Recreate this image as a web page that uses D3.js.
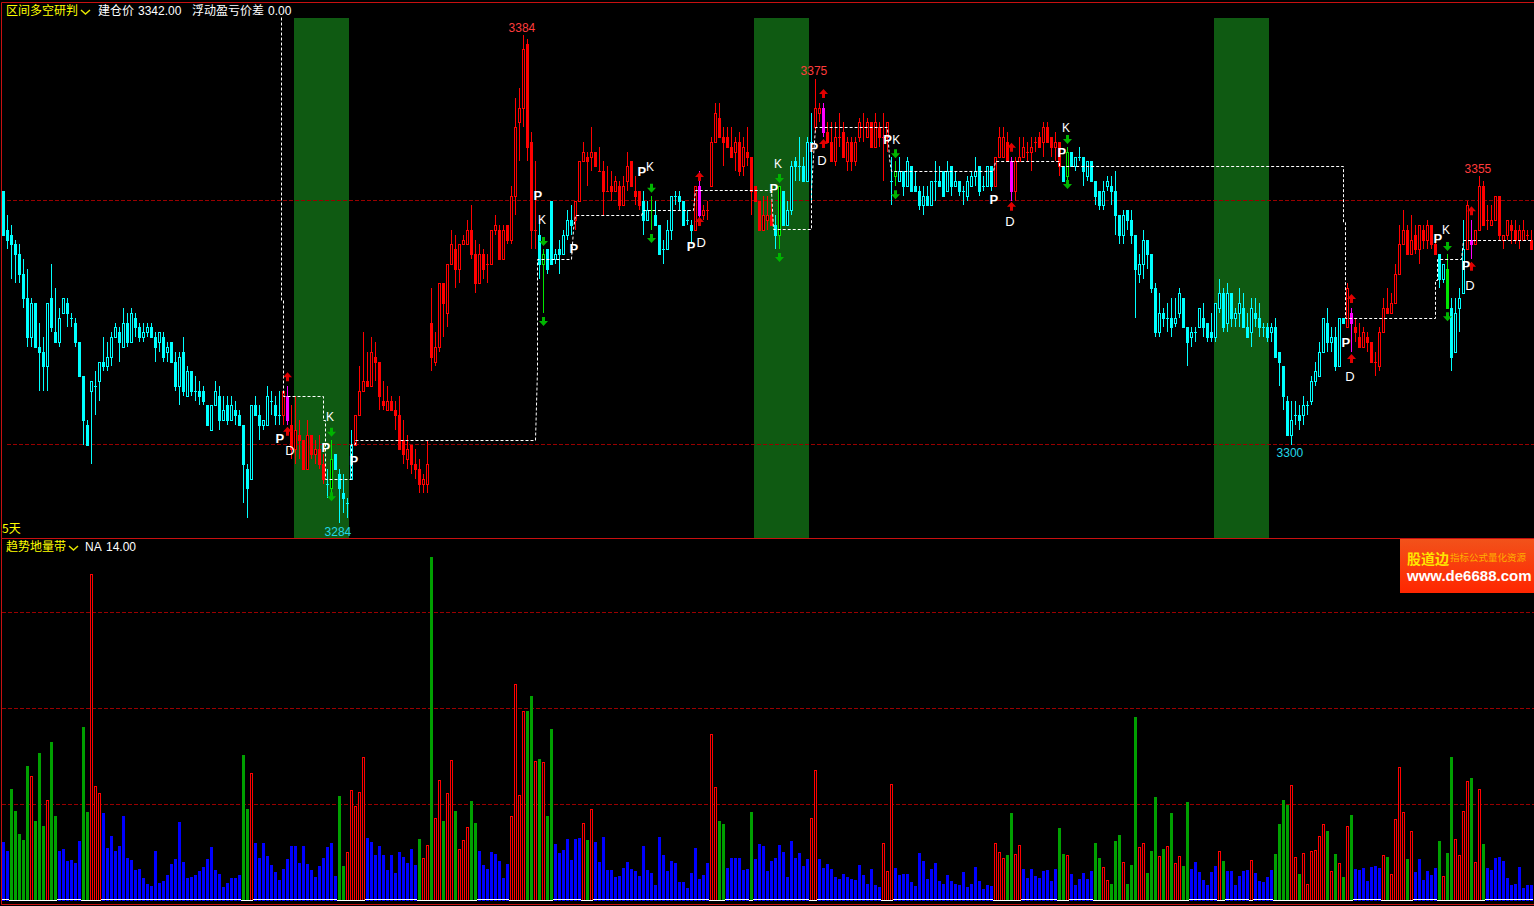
<!DOCTYPE html>
<html>
<head>
<meta charset="utf-8">
<script src="https://d3js.org/d3.v7.min.js"></script>
<style>
  body { margin: 0; background: #000; overflow: hidden; }
  svg { display: block; }
</style>
</head>
<body>
<div id="chart"></div>
<script>
// candles, one per bar
var opens = [
  3352,3344,3343,3341,3339,3335,3330,3322,3329,3320,
  3319,3316,3330,3323,3321,3327,3329,3326,3325,3321,
  3314,3304,3311,3312,3313,3317,3316,3318,3322,3323,
  3320,3325,3321,3326,3324,3322,3323,3324,3322,3321,
  3322,3319,3321,3317,3312,3319,3310,3315,3311,3311,
  3311,3308,3303,3308,3310,3305,3308,3305,3307,3306,
  3304,3295,3293,3308,3306,3304,3304,3309,3308,3306,
  3306,3310,3304,3299,3302,3301,3295,3302,3298,3299,
  3296,3292,3291,3298,3294,3290,3288,3293,3300,3306,
  3311,3313,3312,3318,3317,3309,3307,3309,3307,3306,
  3301,3297,3300,3296,3295,3292,3292,3325,3317,3320,
  3333,3327,3337,3340,3336,3341,3341,3344,3339,3333,
  3339,3337,3337,3344,3344,3338,3345,3342,3351,3366,
  3369,3382,3362,3344,3343,3337,3340,3350,3338,3340,
  3339,3343,3346,3346,3350,3358,3359,3359,3360,3356,
  3356,3352,3353,3352,3353,3349,3354,3358,3352,3352,
  3350,3346,3348,3347,3345,3340,3340,3344,3351,3351,
  3350,3346,3345,3344,3353,3347,3348,3353,3362,3367,
  3363,3363,3361,3360,3362,3357,3360,3359,3353,3350,
  3344,3346,3347,3345,3343,3352,3345,3348,3358,3357,
  3357,3354,3362,3365,3368,3369,3364,3362,3358,3363,
  3364,3358,3362,3358,3363,3365,3363,3366,3361,3365,
  3363,3363,3354,3355,3354,3356,3353,3357,3353,3352,
  3349,3351,3349,3354,3354,3356,3352,3357,3353,3354,
  3352,3351,3353,3355,3357,3353,3353,3357,3353,3359,
  3359,3362,3358,3352,3358,3359,3360,3360,3362,3363,
  3362,3365,3363,3361,3362,3357,3355,3360,3357,3359,
  3359,3355,3358,3354,3352,3349,3353,3353,3352,3347,
  3343,3348,3346,3343,3335,3337,3342,3339,3332,3323,
  3327,3326,3326,3325,3327,3330,3324,3322,3323,3324,
  3326,3325,3323,3322,3328,3331,3325,3331,3326,3327,
  3328,3324,3323,3327,3326,3324,3324,3323,3324,3319,
  3316,3309,3302,3306,3306,3306,3308,3309,3313,3314,
  3319,3325,3321,3322,3316,3326,3324,3327,3324,3322,
  3320,3322,3321,3317,3316,3323,3328,3327,3329,3335,
  3341,3344,3339,3343,3340,3344,3342,3345,3341,3339,
  3334,3336,3328,3319,3328,3331,3340,3342,3341,3344,
  3353,3346,3345,3346,3351,3342,3343,3345,3344,3342,
  3342,3343,3342
];
var closes = [
  3343,3342,3341,3339,3335,3330,3322,3329,3320,3319,
  3316,3329,3324,3321,3326,3330,3327,3326,3321,3314,
  3305,3300,3313,3312,3317,3316,3318,3322,3324,3321,
  3325,3321,3327,3324,3322,3323,3324,3322,3320,3323,
  3318,3320,3317,3312,3318,3311,3315,3311,3311,3310,
  3309,3304,3308,3311,3305,3307,3305,3308,3306,3304,
  3296,3291,3308,3306,3304,3305,3310,3309,3306,3306,
  3311,3305,3299,3303,3301,3295,3302,3298,3299,3296,
  3293,3292,3297,3295,3291,3289,3288,3300,3306,3311,
  3313,3312,3319,3317,3310,3308,3309,3307,3306,3299,
  3298,3299,3296,3295,3292,3293,3296,3318,3320,3333,
  3329,3337,3341,3336,3341,3342,3344,3339,3333,3339,
  3336,3337,3344,3345,3338,3344,3342,3351,3365,3369,
  3381,3361,3344,3344,3337,3339,3336,3337,3339,3339,
  3343,3346,3345,3350,3358,3360,3358,3360,3357,3356,
  3352,3352,3352,3354,3349,3353,3357,3353,3351,3349,
  3346,3348,3348,3345,3339,3340,3344,3351,3351,3350,
  3345,3346,3344,3353,3347,3348,3348,3362,3368,3363,
  3362,3361,3359,3362,3356,3361,3359,3352,3350,3344,
  3347,3347,3345,3343,3353,3345,3348,3357,3357,3357,
  3354,3362,3362,3369,3369,3364,3362,3358,3363,3363,
  3359,3362,3358,3362,3366,3365,3366,3361,3366,3363,
  3363,3366,3354,3356,3356,3353,3358,3352,3352,3349,
  3351,3349,3354,3354,3353,3351,3356,3353,3354,3352,
  3352,3354,3355,3356,3352,3353,3357,3353,3359,3363,
  3363,3358,3352,3358,3359,3361,3360,3361,3362,3361,
  3365,3362,3361,3362,3357,3354,3360,3357,3359,3359,
  3356,3358,3354,3351,3349,3352,3354,3352,3347,3343,
  3347,3346,3343,3336,3337,3342,3339,3332,3323,3327,
  3326,3326,3324,3326,3331,3324,3321,3323,3323,3328,
  3324,3322,3322,3329,3331,3324,3331,3326,3327,3329,
  3324,3322,3328,3326,3324,3324,3322,3324,3318,3317,
  3310,3302,3305,3306,3305,3308,3308,3313,3315,3319,
  3326,3321,3322,3316,3326,3325,3332,3325,3323,3320,
  3323,3321,3317,3317,3323,3328,3327,3329,3335,3341,
  3344,3339,3342,3340,3345,3342,3345,3341,3339,3334,
  3337,3328,3318,3327,3330,3340,3349,3341,3344,3353,
  3345,3346,3346,3351,3343,3343,3346,3344,3342,3344,
  3344,3343,3340
];
var highs = [
  3352,3347,3345,3342,3341,3338,3336,3330,3329,3325,
  3322,3329,3337,3332,3328,3330,3330,3327,3326,3321,
  3314,3305,3313,3315,3317,3322,3321,3323,3325,3324,
  3328,3327,3328,3327,3325,3325,3325,3325,3323,3323,
  3323,3321,3321,3319,3319,3322,3316,3315,3314,3313,
  3312,3308,3308,3313,3312,3310,3310,3310,3309,3307,
  3304,3296,3308,3310,3308,3305,3312,3311,3310,3311,
  3311,3312,3308,3310,3305,3301,3305,3302,3301,3302,
  3298,3295,3301,3298,3295,3294,3289,3303,3306,3316,
  3323,3319,3322,3321,3317,3313,3312,3310,3309,3310,
  3305,3302,3300,3299,3297,3294,3301,3332,3323,3333,
  3333,3337,3344,3343,3341,3343,3346,3349,3342,3341,
  3340,3339,3344,3347,3345,3345,3345,3353,3371,3373,
  3384,3383,3364,3358,3346,3340,3340,3350,3340,3342,
  3344,3348,3349,3350,3358,3362,3360,3365,3360,3361,
  3358,3357,3356,3355,3354,3355,3360,3358,3355,3352,
  3352,3350,3351,3350,3345,3342,3346,3351,3352,3352,
  3350,3348,3346,3353,3356,3349,3350,3363,3370,3370,
  3365,3365,3365,3363,3364,3363,3365,3359,3353,3350,
  3351,3351,3350,3347,3353,3352,3350,3358,3359,3363,
  3359,3363,3368,3375,3370,3370,3366,3366,3366,3368,
  3366,3363,3363,3363,3367,3368,3367,3366,3368,3366,
  3368,3366,3359,3358,3359,3356,3359,3357,3356,3353,
  3353,3353,3354,3358,3357,3356,3358,3357,3356,3354,
  3353,3355,3356,3359,3357,3355,3357,3357,3359,3365,
  3365,3364,3359,3359,3363,3363,3362,3363,3363,3364,
  3366,3366,3363,3364,3362,3357,3361,3360,3359,3361,
  3359,3358,3358,3354,3352,3354,3355,3355,3356,3347,
  3348,3348,3348,3343,3339,3344,3342,3339,3333,3331,
  3328,3329,3330,3330,3332,3330,3324,3324,3324,3328,
  3329,3325,3327,3329,3334,3332,3333,3331,3328,3332,
  3331,3327,3330,3330,3329,3325,3325,3325,3326,3319,
  3316,3310,3309,3309,3308,3310,3309,3314,3317,3321,
  3326,3328,3324,3324,3326,3326,3333,3328,3326,3325,
  3324,3323,3321,3319,3324,3330,3332,3331,3337,3345,
  3348,3345,3347,3345,3345,3345,3346,3345,3343,3339,
  3337,3339,3330,3330,3332,3346,3350,3346,3344,3355,
  3354,3349,3349,3351,3351,3343,3346,3346,3346,3345,
  3346,3344,3344
];
var lows = [
  3343,3340,3334,3333,3333,3328,3320,3320,3320,3311,
  3311,3311,3323,3321,3320,3327,3324,3324,3320,3314,
  3300,3300,3296,3306,3309,3315,3315,3316,3322,3317,
  3320,3320,3321,3322,3321,3321,3322,3322,3317,3319,
  3317,3317,3317,3311,3308,3310,3310,3310,3309,3308,
  3308,3304,3303,3308,3303,3305,3304,3305,3304,3304,
  3288,3285,3293,3306,3301,3303,3304,3306,3304,3304,
  3304,3304,3297,3296,3297,3295,3295,3297,3296,3295,
  3292,3289,3289,3295,3284,3286,3285,3293,3300,3306,
  3311,3312,3312,3313,3307,3307,3307,3307,3303,3299,
  3296,3295,3294,3293,3290,3290,3290,3315,3316,3319,
  3322,3324,3337,3332,3333,3341,3341,3338,3331,3333,
  3334,3333,3337,3343,3338,3338,3341,3341,3347,3358,
  3365,3358,3340,3340,3334,3327,3335,3337,3337,3335,
  3339,3342,3343,3344,3350,3358,3353,3356,3357,3356,
  3347,3352,3350,3352,3348,3349,3352,3353,3349,3348,
  3343,3346,3344,3345,3339,3337,3340,3342,3349,3348,
  3345,3345,3341,3344,3345,3346,3346,3353,3362,3363,
  3357,3361,3359,3356,3355,3355,3357,3347,3350,3344,
  3344,3344,3345,3340,3340,3345,3345,3347,3354,3354,
  3354,3354,3350,3364,3366,3363,3362,3358,3357,3361,
  3359,3356,3356,3357,3362,3362,3363,3361,3361,3361,
  3354,3360,3349,3353,3354,3351,3353,3352,3352,3348,
  3347,3349,3349,3350,3353,3351,3352,3351,3353,3351,
  3349,3350,3353,3353,3351,3352,3353,3352,3353,3359,
  3359,3358,3350,3350,3358,3359,3358,3356,3360,3361,
  3359,3362,3359,3358,3355,3354,3354,3357,3356,3358,
  3353,3354,3354,3349,3348,3348,3352,3349,3343,3341,
  3341,3344,3341,3326,3333,3334,3336,3331,3322,3322,
  3324,3323,3322,3324,3326,3324,3316,3320,3321,3324,
  3322,3321,3321,3321,3327,3323,3323,3324,3324,3324,
  3324,3322,3320,3324,3322,3322,3321,3321,3318,3312,
  3307,3302,3300,3304,3303,3304,3306,3308,3312,3314,
  3319,3319,3319,3315,3316,3325,3324,3319,3321,3320,
  3320,3319,3317,3314,3315,3323,3327,3327,3329,3335,
  3341,3339,3339,3339,3337,3340,3340,3340,3339,3332,
  3333,3328,3315,3319,3323,3331,3340,3338,3341,3344,
  3345,3344,3345,3346,3342,3340,3342,3341,3341,3340,
  3342,3342,3340
];

// candle colour state, as [first bar, last bar] runs
var redRuns = [[70,80],[88,133],[143,159],[173,192],[203,221],[248,264],[336,358],[366,382]];
var magentaBars = [71,174,205,252,337,367];
var greenBars = [82,135,162,194,223,266,361];

// green time zones, first and last bar
var zones = [[73,86],[188,201],[303,316]];

// dashed entry price line: bar position and price of each corner
var stepBars = [69.4,69.4,69.9,69.9,79.9,79.9,80.6,80.6,87.1,87.1,87.9,87.9,133.1,133.4,133.6,142.1,142.6,143.1,
  159.6,159.9,172.4,172.9,192.1,192.6,193.1,201.9,202.1,202.6,202.9,221.1,221.4,221.9,247.4,247.9,264.1,264.1,
  334.9,334.9,335.6,335.6,358.1,358.1,358.6,358.6,364.6,365.1,381.9];
var stepPrices = [3387.4,3329.6,3329.6,3309.9,3309.9,3305,3305,3292.9,3292.9,3299.9,3299.9,3300.8,3300.8,3315.3,3338,3338,3344,3347,
  3347,3348,3348,3352,3352,3344,3344,3344,3352,3359,3365,3365,3358.7,3356,3356,3358,3358,3357,
  3357,3345.4,3345.4,3325.8,3325.8,3333.7,3333.7,3338,3338,3341.9,3341.9];

// signal marks: bar position and price
var upArrowBars = [71,71,174,174,205,205,252,252,337,337,367,367];
var upArrowPrices = [3313.8,3302.6,3354.8,3345.6,3371.8,3361.6,3360.8,3348.7,3329.8,3317.5,3347.8,3336.4];
var downArrowBars = [82,82,135,135,162,162,194,194,223,223,266,266,361,361];
var downArrowPrices = [3302.6,3289.4,3341.7,3325.3,3352.6,3342.3,3354.6,3338.4,3359.7,3351.3,3362.6,3353.4,3340.7,3326.3];

var pBars = [69.1,80.6,87.6,133.6,142.6,159.6,171.9,192.6,202.6,221.0,247.6,264.6,335.6,358.6,365.6];
var pPrices = [3301.3,3299.3,3296.8,3351.1,3340.1,3356,3340.5,3352.4,3360.8,3362.6,3350.3,3359.9,3320.8,3342.3,3336.6];
var kBars = [81.6,134.6,161.6,193.6,223.2,265.6,360.6];
var kPrices = [3305.8,3346.2,3356.9,3357.5,3362.6,3364.9,3344];
var dBars = [71.6,174.4,204.6,251.6,336.6,366.6];
var dPrices = [3298.7,3341.3,3358.1,3345.6,3314,3332.5];

// high / low price labels
var extremeLabels = ["3384","3375","3355","3300","3284"];
var extremeBars = [129.6,202.6,368.6,321.6,83.6];
var extremePrices = [3385.5,3376.7,3356.6,3298.4,3282.1];
var extremeColors = ["#ff3c3c","#ff3c3c","#ff3c3c","#22d8e8","#22d8e8"];

var priceGrid = [3300,3350];

// lower pane
var volumes = [
  58,49,111,89,66,60,134,124,79,147,
  74,100,158,84,49,51,39,40,37,59,
  173,88,326,114,107,87,52,64,49,54,
  84,42,40,30,31,22,16,14,49,17,
  19,25,36,41,78,38,22,23,25,29,
  33,41,53,30,26,13,17,22,22,25,
  145,91,127,57,42,57,44,35,28,20,
  31,41,54,54,37,54,36,30,23,34,
  42,53,57,24,104,34,48,110,94,108,
  143,62,58,45,54,45,30,45,27,48,
  43,37,51,35,61,42,55,343,82,120,
  79,107,140,89,51,60,73,99,77,49,
  35,31,48,46,39,22,36,84,216,105,
  189,189,204,139,141,138,84,171,56,47,
  50,61,40,61,62,77,60,91,58,38,
  63,30,30,23,24,32,38,31,29,24,
  54,30,27,15,63,45,29,39,37,18,
  18,12,27,52,21,25,37,166,113,79,
  76,32,42,42,42,30,31,88,41,56,
  54,29,39,42,55,48,23,59,42,47,
  34,41,82,130,41,32,36,31,23,21,
  26,23,21,20,35,25,16,31,15,13,
  57,29,116,32,25,26,26,18,14,47,
  39,21,31,37,19,16,25,19,16,15,
  28,13,16,33,19,11,15,14,57,48,
  42,45,87,46,55,31,22,31,24,22,
  29,30,19,31,72,46,45,26,15,21,
  27,21,29,57,42,33,20,16,59,65,
  38,16,35,183,53,57,27,49,103,44,
  51,54,87,37,44,34,98,31,38,28,
  20,15,28,34,49,39,29,29,15,24,
  29,30,40,27,19,18,23,30,46,76,
  100,95,115,43,26,47,16,49,50,64,
  76,69,29,46,37,23,74,85,31,30,
  32,19,33,34,32,45,43,26,81,133,
  88,41,69,28,41,20,29,25,32,59,
  24,47,143,61,45,89,119,122,38,111,
  56,32,30,42,43,39,22,15,16,33,
  12,15,15
];
var volumeGreen = [2,3,4,5,6,8,9,10,12,13,20,21,60,61,84,85,104,107,110,113,117,118,131,132,134,136,137,146,179,180,187,
  251,252,264,265,273,274,277,278,279,281,282,283,286,287,288,290,292,295,296,305,318,319,320,321,324,331,333,335,337,
  346,351,359,361,362,367,370];
var volumeRed = [7,11,22,23,24,62,86,87,88,89,90,105,106,108,109,111,112,114,115,116,127,128,129,130,133,135,145,147,177,178,
  202,203,220,221,222,248,249,250,253,254,266,275,276,280,284,285,289,291,293,294,304,312,322,323,325,326,327,328,329,330,
  332,334,336,345,347,348,349,350,352,360,363,364,365,366,368,369];
var volumeGrid = [96,192,288];

var svgWidth = 1534;
var svgHeight = 906;

var svg = d3.select("#chart")
  .append("svg")
  .attr("width", svgWidth)
  .attr("height", svgHeight)
  .style("background", "#000");

var xScale = d3.scaleLinear().domain([0, 382]).range([3.5, 1531.5]);
var priceScale = d3.scaleLinear().domain([3300, 3350]).range([444.5, 200.5]);
var volumeScale = d3.scaleLinear().domain([0, 360]).range([900, 540]);

var cnFont = "'Noto Sans CJK SC', sans-serif";
var latinFont = "'Liberation Sans', Arial, sans-serif";

function barLeft(i) {
  return Math.floor(xScale(i)) - 1;
}
function py(p) {
  return Math.round(priceScale(p));
}
function candleColor(i) {
  if (magentaBars.indexOf(i) >= 0) return "#ff00ff";
  if (greenBars.indexOf(i) >= 0) return "#00e600";
  for (var r = 0; r < redRuns.length; r++) {
    if (i >= redRuns[r][0] && i <= redRuns[r][1]) return "#ff0000";
  }
  return "#00ffff";
}

// time zones
svg.append("g").selectAll("rect")
  .data(zones)
  .enter()
  .append("rect")
  .attr("x", d => barLeft(d[0]))
  .attr("y", 18)
  .attr("width", d => barLeft(d[1]) + 3 - barLeft(d[0]))
  .attr("height", 520)
  .attr("fill", "#0f5a12");

// dashed grid lines of both panes
svg.append("g").selectAll("line")
  .data(priceGrid)
  .enter()
  .append("line")
  .attr("x1", 7)
  .attr("x2", svgWidth)
  .attr("y1", d => priceScale(d))
  .attr("y2", d => priceScale(d))
  .attr("stroke", "#990000")
  .attr("stroke-dasharray", "4 2");

svg.append("g").selectAll("line")
  .data(volumeGrid)
  .enter()
  .append("line")
  .attr("x1", 2)
  .attr("x2", svgWidth)
  .attr("y1", d => Math.floor(volumeScale(d)) + 0.5)
  .attr("y2", d => Math.floor(volumeScale(d)) + 0.5)
  .attr("stroke", "#990000")
  .attr("stroke-dasharray", "4 2");

// candles
var candles = svg.append("g").attr("shape-rendering", "crispEdges");
opens.forEach(function(open, i) {
  var close = closes[i];
  var color = candleColor(i);
  var left = barLeft(i);
  var top = py(Math.max(open, close));
  var bottom = py(Math.min(open, close));

  candles.append("rect")
    .attr("x", left + 1)
    .attr("y", py(highs[i]))
    .attr("width", 1)
    .attr("height", Math.max(py(lows[i]) - py(highs[i]), 1))
    .attr("fill", color);

  if (open === close) {
    candles.append("rect")
      .attr("x", left)
      .attr("y", top)
      .attr("width", 3)
      .attr("height", 1)
      .attr("fill", color);
  } else if (close > open) {
    candles.append("rect")
      .attr("x", left + 0.5)
      .attr("y", top + 0.5)
      .attr("width", 2)
      .attr("height", bottom - top)
      .attr("fill", "#000")
      .attr("stroke", color);
  } else {
    candles.append("rect")
      .attr("x", left)
      .attr("y", top)
      .attr("width", 3)
      .attr("height", bottom - top + 1)
      .attr("fill", color);
  }
});

// entry price line
var stepLine = d3.line()
  .x(d => Math.floor(xScale(d[0])) + 0.5)
  .y(d => Math.floor(priceScale(d[1])) + 0.5);

svg.append("path")
  .attr("d", stepLine(d3.zip(stepBars, stepPrices)))
  .attr("fill", "none")
  .attr("stroke", "#fff")
  .attr("stroke-dasharray", "3 2");

// arrows
var upArrow = "M0,-5L4.5,0L1.5,0L1.5,4L-1.5,4L-1.5,0L-4.5,0Z";
var downArrow = "M0,5L4.5,0L1.5,0L1.5,-4L-1.5,-4L-1.5,0L-4.5,0Z";

svg.append("g").selectAll("path")
  .data(d3.zip(upArrowBars, upArrowPrices))
  .enter()
  .append("path")
  .attr("d", upArrow)
  .attr("transform", d => `translate(${xScale(d[0])}, ${priceScale(d[1])})`)
  .attr("fill", "#e00000");

svg.append("g").selectAll("path")
  .data(d3.zip(downArrowBars, downArrowPrices))
  .enter()
  .append("path")
  .attr("d", downArrow)
  .attr("transform", d => `translate(${xScale(d[0])}, ${priceScale(d[1])})`)
  .attr("fill", "#00b400");

// P, K and D letters
function letters(text, bars, prices, weight, size) {
  svg.append("g").selectAll("text")
    .data(d3.zip(bars, prices))
    .enter()
    .append("text")
    .attr("x", d => xScale(d[0]))
    .attr("y", d => priceScale(d[1]) + 4.5)
    .attr("text-anchor", "middle")
    .attr("font-family", latinFont)
    .attr("font-size", size)
    .attr("font-weight", weight)
    .attr("fill", "#fff")
    .text(text);
}
letters("P", pBars, pPrices, "bold", 13);
letters("K", kBars, kPrices, "normal", 12);
letters("D", dBars, dPrices, "normal", 13);

svg.append("g").selectAll("text")
  .data(extremeLabels)
  .enter()
  .append("text")
  .attr("x", (d, i) => xScale(extremeBars[i]))
  .attr("y", (d, i) => priceScale(extremePrices[i]) + 4.5)
  .attr("text-anchor", "middle")
  .attr("font-family", latinFont)
  .attr("font-size", 12)
  .attr("fill", (d, i) => extremeColors[i])
  .text(d => d);

// lower pane bars
var bars = svg.append("g").attr("shape-rendering", "crispEdges");
volumes.forEach(function(v, i) {
  var left = barLeft(i);
  var top = Math.round(volumeScale(v));
  var kind = volumeGreen.indexOf(i) >= 0 ? "green" : (volumeRed.indexOf(i) >= 0 ? "red" : "blue");

  if (kind === "red") {
    bars.append("rect")
      .attr("x", left + 0.5)
      .attr("y", top + 0.5)
      .attr("width", 2)
      .attr("height", 900 - top)
      .attr("fill", "#000")
      .attr("stroke", "#ff0000");
  } else {
    bars.append("rect")
      .attr("x", left)
      .attr("y", top)
      .attr("width", 3)
      .attr("height", 901 - top)
      .attr("fill", kind === "green" ? "#00a000" : "#0000ff");
  }

  // white base line, one row lower under the red and green bars
  bars.append("rect")
    .attr("x", left - 0.5 < 2 ? 2 : left - 1)
    .attr("y", kind === "blue" ? 899 : 900)
    .attr("width", 4)
    .attr("height", 1)
    .attr("fill", "#fff");
});

// frame
var frame = [[1, 2, 1, 904], [1, 2, svgWidth, 2], [1, 538, svgWidth, 538], [1, 904, svgWidth, 904]];
svg.append("g").selectAll("line")
  .data(frame)
  .enter()
  .append("line")
  .attr("x1", d => d[0] + 0.5)
  .attr("y1", d => d[1] + 0.5)
  .attr("x2", d => d[2] + 0.5)
  .attr("y2", d => d[3] + 0.5)
  .attr("stroke", "#c81010");

// header texts
function label(text, x, y, color, font) {
  svg.append("text")
    .attr("x", x)
    .attr("y", y)
    .attr("font-family", font)
    .attr("font-size", 12)
    .attr("fill", color)
    .text(text);
}
label("区间多空研判", 6, 15, "#ffff00", cnFont);
label("建仓价", 98, 15, "#fff", cnFont);
label("3342.00", 138, 15, "#fff", latinFont);
label("浮动盈亏价差", 192, 15, "#fff", cnFont);
label("0.00", 268, 15, "#fff", latinFont);
label("5天", 2, 533, "#ffff00", cnFont);
label("趋势地量带", 6, 551, "#ffff00", cnFont);
label("NA", 85, 551, "#fff", latinFont);
label("14.00", 106, 551, "#fff", latinFont);

svg.append("path")
  .attr("d", "M81,10L85.5,14L90,10")
  .attr("fill", "none")
  .attr("stroke", "#e6e600")
  .attr("stroke-width", 1.5);
svg.append("path")
  .attr("d", "M69,546L73.5,550L78,546")
  .attr("fill", "none")
  .attr("stroke", "#e6e600")
  .attr("stroke-width", 1.5);

// watermark banner
var banner = svg.append("defs").append("linearGradient")
  .attr("id", "bannerFill")
  .attr("x1", 0).attr("y1", 0).attr("x2", 0).attr("y2", 1);
banner.append("stop").attr("offset", "0%").attr("stop-color", "#f2521a");
banner.append("stop").attr("offset", "100%").attr("stop-color", "#ff2600");

svg.append("rect")
  .attr("x", 1400)
  .attr("y", 539)
  .attr("width", 134)
  .attr("height", 54)
  .attr("fill", "url(#bannerFill)");

svg.append("text")
  .attr("x", 1407)
  .attr("y", 564)
  .attr("font-family", cnFont)
  .attr("font-size", 14)
  .attr("font-weight", "bold")
  .attr("fill", "#ffe600")
  .text("股道边");

svg.append("text")
  .attr("x", 1450)
  .attr("y", 561)
  .attr("font-family", cnFont)
  .attr("font-size", 9.5)
  .attr("fill", "#ffb000")
  .text("指标公式量化资源");

svg.append("text")
  .attr("x", 1407)
  .attr("y", 581)
  .attr("font-family", latinFont)
  .attr("font-size", 15)
  .attr("font-weight", "bold")
  .attr("fill", "#fff")
  .text("www.de6688.com");
</script>
</body>
</html>
